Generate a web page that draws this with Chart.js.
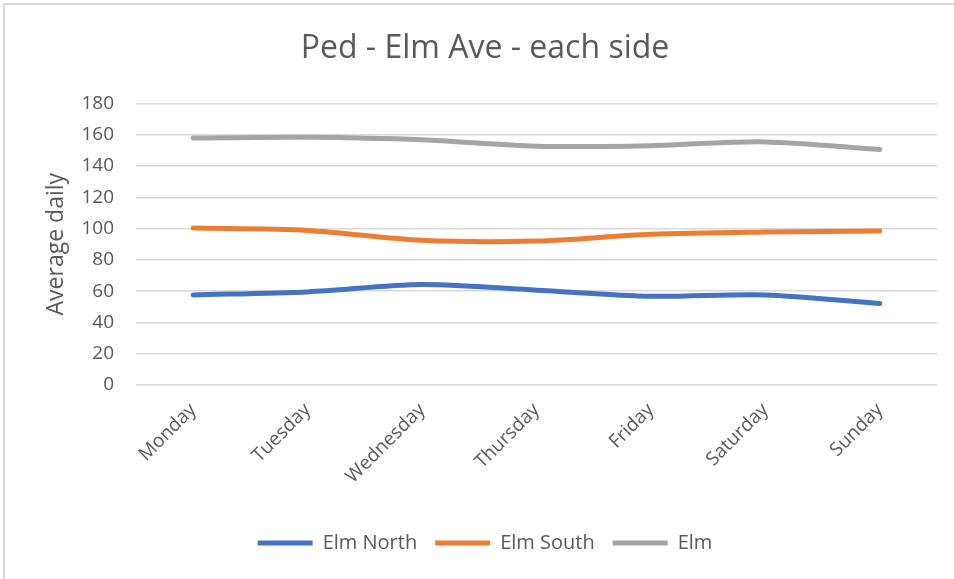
<!DOCTYPE html>
<html>
<head>
<meta charset="utf-8">
<script src="https://cdn.jsdelivr.net/npm/chart.js@4/dist/chart.umd.min.js"></script>
<style>
  html, body { margin: 0; padding: 0; background: #fff; }
  #wrap { width: 954px; height: 579px; position: relative; }
</style>
</head>
<body>
<div id="wrap"><canvas id="c" width="954" height="579"></canvas></div>
<script>
const categories = ["Monday", "Tuesday", "Wednesday", "Thursday", "Friday", "Saturday", "Sunday"];
const elmNorth = [57.6, 59.5, 64.2, 60.6, 56.7, 57.6, 52.1];
const elmSouth = [100.3, 98.8, 92.5, 92.0, 96.3, 97.8, 98.4];
const elmTotal = [157.9, 158.3, 156.7, 152.6, 153.0, 155.4, 150.5];
const seriesNames = ["Elm North", "Elm South", "Elm"];
const yTicks = [0, 20, 40, 60, 80, 100, 120, 140, 160, 180];
const chartTitle = "Ped - Elm Ave - each side";
const yTitle = "Average daily";

const FONT = "'Open Sans', Lato, sans-serif";
const TXT = "#595959";
const PAD_LEFT = 33;
const PAD_BOTTOM = 16;
const PLOT_LEFT = 136;
const PLOT_BOTTOM = 385;

const frame = {
  id: "frame",
  beforeDraw(chart) {
    const ctx = chart.ctx;
    ctx.save();
    ctx.fillStyle = "#fff";
    ctx.fillRect(0, 0, chart.width, chart.height);
    ctx.strokeStyle = "#d9d9d9";
    ctx.lineWidth = 2;
    ctx.beginPath();
    ctx.moveTo(4, chart.height);
    ctx.lineTo(4, 4);
    ctx.lineTo(chart.width, 4);
    ctx.stroke();
    ctx.restore();
  }
};

function ds(label, data, color) {
  return {
    label, data,
    borderColor: color, backgroundColor: color,
    borderWidth: 5, pointRadius: 0, pointHoverRadius: 0,
    pointStyle: "line", tension: 0.3,
    borderCapStyle: "round", borderJoinStyle: "round", fill: false
  };
}

new Chart(document.getElementById("c"), {
  type: "line",
  data: {
    labels: categories,
    datasets: [
      ds(seriesNames[0], elmNorth, "#4472C4"),
      ds(seriesNames[1], elmSouth, "#ED7D31"),
      ds(seriesNames[2], elmTotal, "#A5A5A5")
    ]
  },
  plugins: [frame],
  options: {
    responsive: false,
    animation: false,
    devicePixelRatio: 1,
    layout: { padding: { left: PAD_LEFT, right: 17, top: 0, bottom: PAD_BOTTOM } },
    plugins: {
      title: {
        display: true, text: chartTitle, color: TXT,
        font: { family: FONT, size: 32, weight: "normal" },
        padding: { top: 30, bottom: 35 }
      },
      legend: {
        position: "bottom",
        labels: {
          color: TXT, font: { family: FONT, size: 20 },
          usePointStyle: true, pointStyle: "line", pointStyleWidth: 55,
          boxHeight: 5, padding: 18
        }
      },
      tooltip: { enabled: false }
    },
    scales: {
      x: {
        offset: true,
        grid: { display: false },
        border: { display: false },
        afterFit(scale) {
          const ch = scale.chart;
          const lh = ch.legend ? ch.legend.height : 0;
          scale.height = ch.height - PAD_BOTTOM - lh - PLOT_BOTTOM;
        },
        ticks: {
          color: TXT, font: { family: FONT, size: 19 },
          minRotation: 45, maxRotation: 45, padding: 6
        }
      },
      y: {
        min: 0, max: 180,
        afterFit(scale) { scale.width = PLOT_LEFT - PAD_LEFT; },
        afterBuildTicks(scale) { scale.ticks = yTicks.map(v => ({ value: v })); },
        grid: { color: "#d9d9d9", lineWidth: 1.5, drawTicks: false },
        border: { display: false },
        ticks: { color: TXT, font: { family: FONT, size: 19 }, padding: 22 },
        title: {
          display: true, text: yTitle, color: TXT,
          font: { family: FONT, size: 23 },
          padding: { top: 10, bottom: 0 }
        }
      }
    }
  }
});
</script>
</body>
</html>
